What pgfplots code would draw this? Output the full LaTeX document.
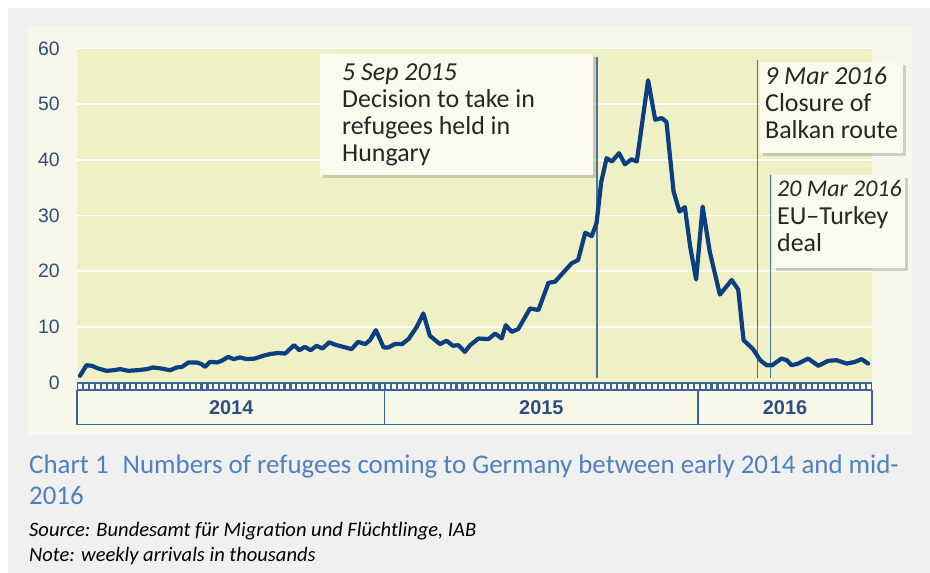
\documentclass[border=0pt]{standalone}
\usepackage{fontspec}
\setmainfont{Carlito}
\newfontfamily\arialf{Liberation Sans}
\usepackage{pgfplots}
\pgfplotsset{compat=1.18}
\usetikzlibrary{shadows}

\definecolor{outerbg}{HTML}{F0F0F0}
\definecolor{panelbg}{HTML}{F8F8EA}
\definecolor{plotbg}{HTML}{F0F0C6}
\definecolor{linecol}{HTML}{0B3F80}
\definecolor{vlinecol}{HTML}{4D72A0}
\definecolor{stripblue}{HTML}{3B659A}
\definecolor{tickcol}{HTML}{2F4E7C}
\definecolor{captionblue}{HTML}{4F81BD}
\definecolor{boxbg}{HTML}{FAFAEE}

% weekly arrivals (thousands), x = weeks since start of 2014
\pgfplotstableread{
w v
0.5 1.2
1.6 3.1
2.5 3.0
3.6 2.5
5.0 2.1
6.1 2.2
7.3 2.4
8.6 2.1
10.1 2.2
11.8 2.4
12.8 2.7
14.3 2.5
15.7 2.2
16.8 2.7
17.7 2.8
18.8 3.6
20.2 3.6
21.0 3.3
21.6 2.8
22.4 3.7
23.6 3.6
24.4 3.9
25.5 4.6
26.4 4.2
27.5 4.5
28.6 4.2
30.0 4.3
31.4 4.8
32.5 5.1
33.9 5.3
35.1 5.2
36.6 6.7
37.5 5.8
38.4 6.4
39.4 5.8
40.4 6.6
41.4 6.1
42.5 7.2
43.8 6.7
44.9 6.4
46.3 6.0
47.4 7.3
48.6 6.9
49.4 7.6
50.4 9.4
51.7 6.3
52.5 6.3
53.6 6.9
54.8 6.9
55.9 7.8
57.3 10.0
58.4 12.4
59.5 8.4
61.2 6.9
62.3 7.5
63.4 6.6
64.3 6.7
65.4 5.5
66.3 6.7
67.7 7.9
69.4 7.8
70.5 8.8
71.6 7.9
72.3 10.3
73.3 9.1
74.4 9.6
76.4 13.3
77.8 13.0
79.5 17.9
80.6 18.1
83.4 21.4
84.5 22.0
85.7 26.9
86.8 26.3
87.6 28.6
88.4 36.0
89.3 40.3
90.2 39.7
91.4 41.2
92.4 39.2
93.5 40.1
94.4 39.7
96.3 54.3
97.5 47.2
98.6 47.5
99.4 46.8
100.6 34.3
101.6 30.7
102.5 31.5
103.4 24.4
104.4 18.5
105.5 31.6
106.7 23.5
108.4 15.8
110.4 18.4
111.5 16.7
112.4 7.6
114.0 6.0
115.2 4.0
116.3 3.1
117.2 3.1
118.8 4.3
119.7 4.0
120.5 3.1
121.6 3.4
123.3 4.3
125.0 3.0
126.7 3.9
128.1 4.0
129.8 3.4
131.2 3.7
132.3 4.2
133.4 3.4
}\arrivals

\newcommand{\boxline}[3]{\node[anchor=base west, inner sep=0pt, font=\fontsize{26}{27}\selectfont, text=black!85] at (#1,#2) {#3};}

\begin{document}
\begin{tikzpicture}[x=1bp, y=1bp]
\fill[white] (0,0) rectangle (930,573);
\fill[outerbg] (8,0) rectangle (930,565);
\fill[panelbg] (28,138) rectangle (912,547);

\begin{axis}[
  at={(77bp,190.5bp)}, anchor=south west,
  scale only axis, width=795bp, height=334bp,
  xmin=0, xmax=134.06, ymin=0, ymax=60,
  xtick=\empty, ytick={0,10,...,60},
  axis background/.style={fill=plotbg},
  axis line style={draw=none},
  major tick style={draw=none},
  ymajorgrids, grid style={white, line width=1.5bp},
  /pgf/number format/assume math mode=true,
  yticklabel style={font=\arialf\fontsize{19.5}{19.5}\selectfont, text=tickcol, inner sep=0pt, xshift=-17bp},
  clip=false,
]
% week strip and year boxes
\fill[stripblue] (axis cs:0,0) rectangle (axis cs:134.06,-1.44);
\pgfplotsinvokeforeach{0,...,133}{
  \fill[white] (axis cs:#1+0.18,-0.3) rectangle (axis cs:#1+0.82,-1.14);
}
\draw[stripblue, line width=1.4bp, fill=panelbg] (axis cs:0,-1.44) rectangle (axis cs:51.9,-7.55);
\draw[stripblue, line width=1.4bp, fill=panelbg] (axis cs:51.9,-1.44) rectangle (axis cs:104.7,-7.55);
\draw[stripblue, line width=1.4bp, fill=panelbg] (axis cs:104.7,-1.44) rectangle (axis cs:134.06,-7.55);
\node[font=\arialf\bfseries\fontsize{20}{20}\selectfont, text=tickcol] at (axis cs:26,-4.55) {2014};
\node[font=\arialf\bfseries\fontsize{20}{20}\selectfont, text=tickcol] at (axis cs:78.3,-4.55) {2015};
\node[font=\arialf\bfseries\fontsize{20}{20}\selectfont, text=tickcol] at (axis cs:119.4,-4.55) {2016};
% event lines
\draw[vlinecol, line width=1.3bp] (axis cs:87.7,0.8) -- (axis cs:87.7,58.5);
\draw[vlinecol, line width=1.3bp] (axis cs:114.8,0.8) -- (axis cs:114.8,57.9);
\draw[vlinecol, line width=1.3bp] (axis cs:116.9,0.8) -- (axis cs:116.9,37.3);
\addplot[linecol, line width=4.2bp, line join=round, line cap=round, no marks] table[x=w, y=v] {\arrivals};
\end{axis}

% annotation boxes
\fill[boxbg, drop shadow={shadow xshift=3bp, shadow yshift=-3bp, opacity=0.35}] (320,398) rectangle (593,519);
\boxline{342}{492}{\itshape 5 Sep 2015}
\boxline{342}{465}{Decision to take in}
\boxline{342}{438}{refugees held in}
\boxline{342}{411}{Hungary}

\fill[boxbg, drop shadow={shadow xshift=3bp, shadow yshift=-3bp, opacity=0.35}] (760,420) rectangle (903,511);
\boxline{765}{488}{\itshape 9 Mar 2016}
\boxline{765}{461.3}{Closure of}
\boxline{765}{434.7}{Balkan route}

\fill[boxbg, drop shadow={shadow xshift=3bp, shadow yshift=-3bp, opacity=0.35}] (773,305) rectangle (905,398);
\boxline{777}{376.3}{\itshape\fontsize{24}{27}\selectfont 20 Mar 2016}
\boxline{777}{348}{EU–Turkey}
\boxline{777}{321.3}{deal}

% caption
\node[anchor=base west, inner sep=0pt, text=captionblue, font=\fontsize{27}{27}\selectfont] at (29,99.7) {Chart 1\hspace{14bp}Numbers of refugees coming to Germany between early 2014 and mid-};
\node[anchor=base west, inner sep=0pt, text=captionblue, font=\fontsize{27}{27}\selectfont] at (29,68) {2016};
\node[anchor=base west, inner sep=0pt, font=\itshape\fontsize{20.6}{20.6}\selectfont] at (29,36) {Source: Bundesamt für Migration und Flüchtlinge, IAB};
\node[anchor=base west, inner sep=0pt, font=\itshape\fontsize{20.6}{20.6}\selectfont] at (29,11) {Note: weekly arrivals in thousands};
\end{tikzpicture}
\end{document}
